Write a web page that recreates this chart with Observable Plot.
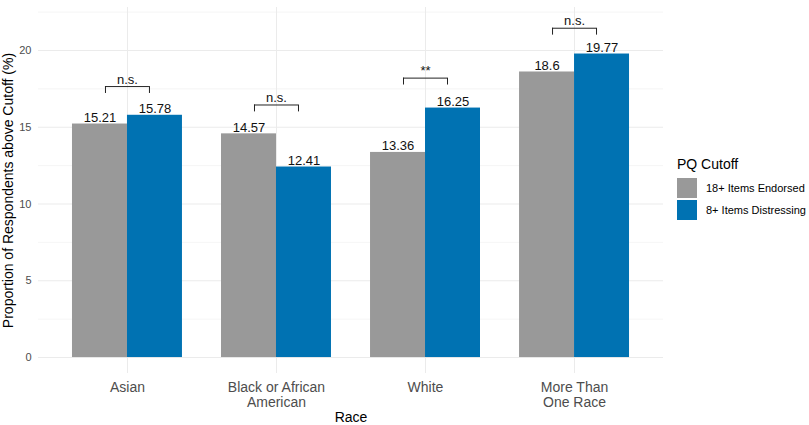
<!DOCTYPE html>
<html><head><meta charset="utf-8">
<script src="https://cdn.jsdelivr.net/npm/d3@7"></script>
<script src="https://cdn.jsdelivr.net/npm/@observablehq/plot@0.6"></script>
<style>
body{margin:0;background:#fff;font-family:"Liberation Sans",Arial,sans-serif;}
#wrap{position:relative;width:809px;height:425px;overflow:hidden;}
#legend{position:absolute;left:677px;top:155px;color:#000;}
#legend .title{font-size:14px;line-height:18px;margin-bottom:4px;}
#legend .row{display:flex;align-items:center;height:22px;}
#legend .sw{width:20px;height:20px;margin-right:9px;}
#legend .lab{font-size:11px;white-space:nowrap;}
</style></head><body><div id="wrap"></div>
<script>
const races = ["Asian", "Black or African American", "White", "More Than One Race"];
const tickLabels = ["Asian", "Black or African\nAmerican", "White", "More Than\nOne Race"];
const cutoffs = ["18+ Items Endorsed", "8+ Items Distressing"];
const endorsed = [15.21, 14.57, 13.36, 18.6];
const distressing = [15.78, 12.41, 16.25, 19.77];
const sigLabels = ["n.s.", "n.s.", "**", "n.s."];
const bracketY = [17.65, 16.45, 18.2, 21.45];
const colors = ["#999999", "#0072B2"];
const yMajor = [0, 5, 10, 15, 20];
const yMinor = [2.5, 7.5, 12.5, 17.5, 22.5];

const W = 809, H = 425;
const mL = 38, mR = 146, mT = 7, mB = 52;
const xOpts = {type: "band", domain: races, range: [mL, W - mR], paddingInner: 0.262, paddingOuter: 0.228, round: false};
const bw = Plot.scale({x: xOpts}).bandwidth;

const rows = [];
races.forEach((r, i) => {
  rows.push({race: r, cutoff: cutoffs[0], value: endorsed[i], side: -1});
  rows.push({race: r, cutoff: cutoffs[1], value: distressing[i], side: 1});
});
const sig = races.map((r, i) => ({race: r, y: bracketY[i], label: sigLabels[i]}));
const half = bw * 0.2;
const leg = 0.45;

const chart = Plot.plot({
  width: W, height: H,
  marginLeft: mL, marginRight: mR, marginTop: mT, marginBottom: mB,
  style: {fontFamily: '"Liberation Sans", Arial, sans-serif', background: "#fff"},
  x: {domain: races, paddingInner: 0.262, paddingOuter: 0.228, round: false, axis: null},
  y: {domain: [-1.04, 22.8], axis: null},
  color: {domain: cutoffs, range: colors},
  marks: [
    Plot.ruleY(yMinor, {stroke: "#EFEFEF", strokeWidth: 0.6}),
    Plot.ruleY(yMajor, {stroke: "#EBEBEB", strokeWidth: 1}),
    Plot.ruleX(races, {stroke: "#EBEBEB", strokeWidth: 1}),
    Plot.barY(rows.filter(d => d.side < 0), {x: "race", y: "value", fill: "cutoff", insetRight: bw / 2}),
    Plot.barY(rows.filter(d => d.side > 0), {x: "race", y: "value", fill: "cutoff", insetLeft: bw / 2}),
    Plot.text(rows.filter(d => d.side < 0), {x: "race", y: "value", text: d => String(d.value), dx: -bw / 4, dy: -2, lineAnchor: "bottom", fontSize: 13, fill: "#111"}),
    Plot.text(rows.filter(d => d.side > 0), {x: "race", y: "value", text: d => String(d.value), dx: bw / 4, dy: -2, lineAnchor: "bottom", fontSize: 13, fill: "#111"}),
    Plot.tickY(sig, {x: "race", y: "y", insetLeft: bw / 2 - half, insetRight: bw / 2 - half, stroke: "#222", strokeWidth: 1}),
    Plot.ruleX(sig, {x: "race", y1: d => d.y - leg, y2: "y", dx: -half, stroke: "#222", strokeWidth: 1}),
    Plot.ruleX(sig, {x: "race", y1: d => d.y - leg, y2: "y", dx: half, stroke: "#222", strokeWidth: 1}),
    Plot.text(sig, {x: "race", y: "y", text: "label", dy: -3, lineAnchor: "bottom", fontSize: 13, fill: "#111"}),
    Plot.axisY({ticks: yMajor, tickSize: 0, tickPadding: 7, fontSize: 11, fill: "#4D4D4D", label: null}),
    Plot.axisX({tickSize: 0, tickPadding: 8, fontSize: 14, fill: "#4D4D4D", lineHeight: 1.07, label: null,
      tickFormat: d => tickLabels[races.indexOf(d)]}),
    Plot.text(["Proportion of Respondents above Cutoff (%)"], {frameAnchor: "left", text: d => d, rotate: -90, dx: -30, textAnchor: "middle", lineAnchor: "middle", fontSize: 14, fill: "#000"}),
    Plot.text(["Race"], {frameAnchor: "bottom", text: d => d, dy: 44, textAnchor: "middle", lineAnchor: "middle", fontSize: 14, fill: "#000"})
  ]
});
const wrap = document.getElementById("wrap");
wrap.appendChild(chart);

const legend = document.createElement("div");
legend.id = "legend";
let html = '<div class="title">PQ Cutoff</div>';
cutoffs.forEach((c, i) => {
  html += `<div class="row"><div class="sw" style="background:${colors[i]}"></div><div class="lab">${c}</div></div>`;
});
legend.innerHTML = html;
wrap.appendChild(legend);
</script>
</body></html>
